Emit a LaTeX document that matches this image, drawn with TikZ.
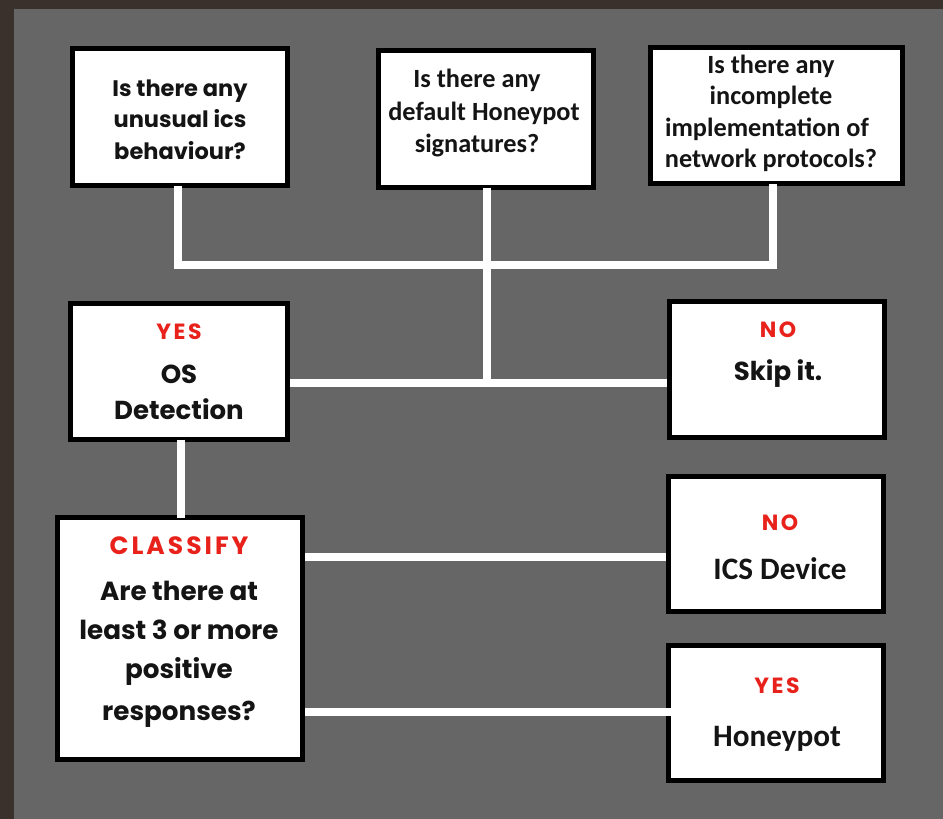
\documentclass[tikz,border=0pt]{standalone}
\usepackage{fontspec}
\usetikzlibrary{calc}
\newfontfamily\pop{Poppins}
\newfontfamily\popls{Poppins}[LetterSpace=12]
\newfontfamily\carl{Carlito}
\definecolor{bggray}{HTML}{666666}
\definecolor{darkedge}{HTML}{3A302C}
\definecolor{lblred}{HTML}{E8221B}
\tikzset{
  box/.style={draw=black, line width=5pt, fill=white, inner sep=0pt},
  wire/.style={draw=white, line width=8pt},
  ptxt/.style={anchor=base, inner sep=0pt, font=\pop\bfseries\fontsize{22.5}{26}\selectfont, text=black!92},
  ctxt/.style={anchor=base, inner sep=0pt, font=\carl\bfseries\fontsize{26.3}{30}\selectfont, text=black!92},
  bigp/.style={anchor=base, inner sep=0pt, font=\pop\bfseries\fontsize{26}{30}\selectfont, text=black!92},
  clsp/.style={anchor=base, inner sep=0pt, font=\pop\bfseries\fontsize{26.2}{30}\selectfont, text=black!92},
  bigc/.style={anchor=base, inner sep=0pt, font=\carl\bfseries\fontsize{31.2}{36}\selectfont, text=black!92},
  redlbl/.style={anchor=base, inner sep=0pt, font=\popls\bfseries\fontsize{22}{26}\selectfont, text=lblred},
}
\begin{document}
\begin{tikzpicture}[x=1pt, y=-1pt]
% background
\fill[darkedge] (0,0) rectangle (943,819);
\fill[bggray] (14,9) rectangle (943,819);
\useasboundingbox (0,0) rectangle (943,819);

% boxes (outer size minus line width)
\node[box, minimum width=215pt, minimum height=137pt] (b1) at (180,117) {};
\node[box, minimum width=215pt, minimum height=137pt] (b2) at (486,119) {};
\node[box, minimum width=252pt, minimum height=136pt] (b3) at (776.5,115.5) {};
\node[box, minimum width=217pt, minimum height=136pt] (yes1) at (179,371.5) {};
\node[box, minimum width=215pt, minimum height=136pt] (no1) at (777,369.5) {};
\node[box, minimum width=245pt, minimum height=242pt] (cls) at (180,638.5) {};
\node[box, minimum width=215pt, minimum height=135pt] (ics) at (776,543.5) {};
\node[box, minimum width=215pt, minimum height=135pt] (hp) at (776,712.5) {};

% junction coordinates
\coordinate (jl) at (178,265);
\coordinate (jr) at (773,265);
\coordinate (jm) at (487,383);

% connectors
\draw[wire] ($(b1.south)+(-2,-2.5)$) -- (jl) -- (jr) -- ($(b3.south)+(-3.5,-2.5)$);
\draw[wire] ($(b2.south)+(1,-2.5)$) -- (jm);
\draw[wire] (yes1.east |- jm) -- (no1.west |- jm);
\draw[wire] ($(yes1.south)+(2,-2.5)$) -- ($(cls.north)+(1,2.5)$);
\draw[wire] ($(cls.east)+(0,-81.5)$) coordinate (c1) -- (ics.west |- c1);
\draw[wire] ($(cls.east)+(0,73)$) coordinate (c2) -- ($(hp.west |- c2)+(16,0)$);

% text box 1
\node[ptxt] (t11) at (180,96) {Is there any};
\node[ptxt] (t12) at (180,127) {unusual ics};
\node[ptxt] (t13) at (180,159) {behaviour?};
% text box 2
\node[ctxt] (t21) at (477,87) {Is there any};
\node[ctxt] (t22) at (484,120) {default Honeypot};
\node[ctxt] (t23) at (477,152) {signatures?};
% text box 3
\node[ctxt] (t31) at (771,73) {Is there any};
\node[ctxt] (t32) at (771,104) {incomplete};
\node[ctxt] (t33) at (767,136) {implementation of};
\node[ctxt] (t34) at (771,167) {network protocols?};
% YES OS detection
\node[redlbl] (y1) at (179,339) {YES};
\node[bigp] (os1) at (179,383) {OS};
\node[bigp] (os2) at (179,419) {Detection};
% NO skip
\node[redlbl] (n1) at (778,337) {NO};
\node[bigp] (sk) at (778,380) {Skip it.};
% classify
\node[redlbl, font=\popls\bfseries\fontsize{25}{29}\selectfont] (cl) at (179,554) {CLASSIFY};
\node[clsp] (q1) at (179,600) {Are there at};
\node[clsp] (q2) at (179,639) {least 3 or more};
\node[clsp] (q3) at (179,678) {positive};
\node[clsp] (q4) at (179,720) {responses?};
% ICS device
\node[redlbl] (n2) at (780,530) {NO};
\node[bigc] (ic) at (780,579) {ICS Device};
% honeypot
\node[redlbl] (y2) at (777,693) {YES};
\node[bigc] (hpt) at (777,746) {Honeypot};
\end{tikzpicture}
\end{document}
